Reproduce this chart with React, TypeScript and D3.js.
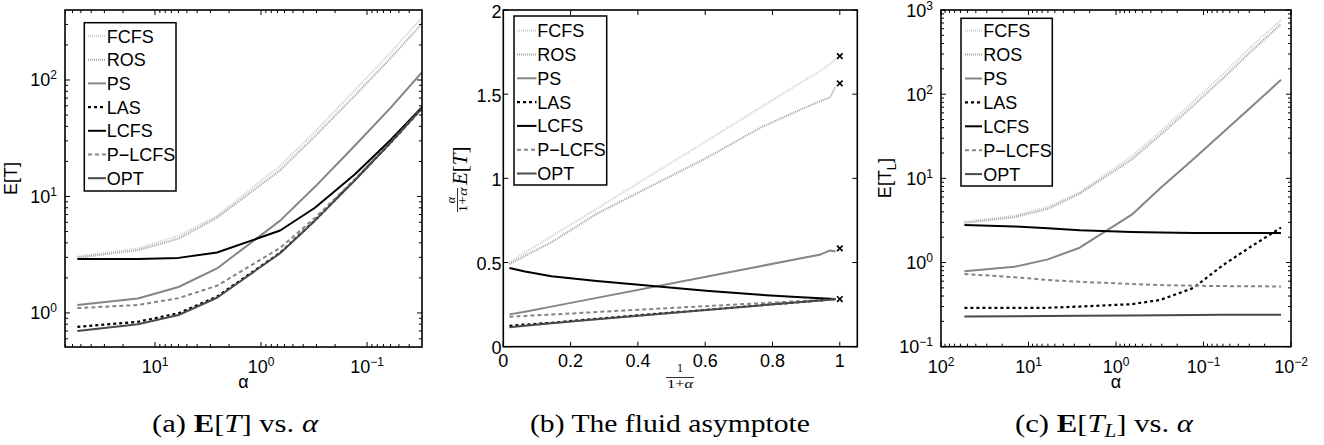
import React from "react";
import * as d3 from "d3";

// ---------- data ----------
const alpha = [54, 14.5, 6, 2.6, 0.66, 0.31, 0.13, 0.06, 0.03, 0.013];
const policyNames = ["FCFS", "ROS", "PS", "LAS", "LCFS", "P\u2212LCFS", "OPT"];

// (a) E[T] vs alpha
const etFCFS = [3.05, 3.59, 4.59, 6.82, 18.3, 36, 82, 172, 348, 785];
const etROS = [2.98, 3.46, 4.34, 6.57, 16.8, 32.9, 73.6, 154, 308, 710];
const etPS = [1.17, 1.33, 1.67, 2.41, 6.2, 12.1, 27.4, 57.7, 118, 261];
const etLAS = [0.758, 0.84, 0.994, 1.38, 3.29, 6.23, 13.9, 28.9, 57.7, 130];
const etLCFS = [2.9, 2.9, 2.97, 3.3, 5.1, 8.0, 15.5, 30.5, 59, 130];
const etPLCFS = [1.1, 1.17, 1.34, 1.71, 3.62, 6.53, 14.1, 29.2, 57.9, 130.6];
const etOPT = [0.7, 0.8, 0.96, 1.35, 3.26, 6.2, 13.8, 28.9, 57.7, 130];

// (b) fluid asymptote: alpha/(1+alpha) E[T] vs 1/(1+alpha)
const fluidFCFS = [0.5, 0.56, 0.655, 0.82, 1.22, 1.42, 1.57, 1.64, 1.68, 1.71];
const fluidROS = [0.49, 0.54, 0.62, 0.79, 1.12, 1.3, 1.41, 1.46, 1.48, 1.545];
const fluidPS = [0.192, 0.208, 0.238, 0.29, 0.415, 0.478, 0.525, 0.548, 0.572, 0.565];
const fluidLAS = [0.124, 0.131, 0.142, 0.166, 0.219, 0.246, 0.266, 0.275, 0.279, 0.283];
const fluidLCFS = [0.468, 0.447, 0.418, 0.39, 0.333, 0.308, 0.294, 0.288, 0.285, 0.283];
const fluidPLCFS = [0.178, 0.183, 0.191, 0.206, 0.241, 0.258, 0.271, 0.277, 0.28, 0.283];
const fluidOPT = [0.115, 0.125, 0.139, 0.163, 0.218, 0.245, 0.265, 0.275, 0.279, 0.283];
const fluidLimitValues = [1.726, 1.564, 0.584, 0.283];

// (c) E[T_L] vs alpha
const etlFCFS = [3.05, 3.59, 4.59, 6.82, 18.3, 36, 82, 172, 348, 760];
const etlROS = [2.95, 3.46, 4.34, 6.57, 16.8, 32.9, 73.6, 154, 308, 680];
const etlPS = [0.79, 0.89, 1.09, 1.5, 3.7, 7.7, 17, 35, 67, 148];
const etlLAS = [0.29, 0.29, 0.29, 0.3, 0.32, 0.36, 0.5, 0.93, 1.5, 2.6];
const etlLCFS = [2.8, 2.68, 2.55, 2.42, 2.3, 2.27, 2.25, 2.25, 2.25, 2.25];
const etlPLCFS = [0.73, 0.67, 0.62, 0.59, 0.556, 0.54, 0.53, 0.525, 0.522, 0.52];
const etlOPT = [0.228, 0.23, 0.232, 0.233, 0.235, 0.237, 0.238, 0.239, 0.239, 0.24];

const linearXTicks = [0, 0.2, 0.4, 0.6, 0.8, 1];
const linearYTicks = [0, 0.5, 1, 1.5, 2];

// ---------- styles ----------
const SANS = "'Liberation Sans', Arial, Helvetica, sans-serif";
const SERIF = "'Liberation Serif', 'Times New Roman', serif";
const lineStyles = [
  { stroke: "#cfcfcf", width: 2, dash: "1,1" },
  { stroke: "#a2a2a2", width: 2, dash: "1,1" },
  { stroke: "#858585", width: 2, dash: "" },
  { stroke: "#000000", width: 2.2, dash: "3,3" },
  { stroke: "#000000", width: 2, dash: "" },
  { stroke: "#858585", width: 2, dash: "4,3" },
  { stroke: "#4a4a4a", width: 2, dash: "" },
];

function logTicks(domain: number[]) {
  const lo = Math.min(domain[0], domain[1]);
  const hi = Math.max(domain[0], domain[1]);
  const majors: number[] = [];
  const minors: number[] = [];
  for (let e = Math.floor(Math.log10(lo)) - 1; e <= Math.ceil(Math.log10(hi)); e++) {
    const p = Math.pow(10, e);
    if (p >= lo * 0.9999 && p <= hi * 1.0001) majors.push(e);
    for (let m = 2; m <= 9; m++) {
      const v = m * p;
      if (v >= lo && v <= hi) minors.push(v);
    }
  }
  return { majors, minors };
}

function expStr(e: number) {
  return e < 0 ? "\u2212" + -e : String(e);
}

type PanelCfg = {
  id: string;
  left: number; right: number; top: number; bottom: number;
  x: any; y: any;
  logX: boolean; logY: boolean;
  xs: number[];
  series: number[][];
  legend: { x0: number; y0: number; x1: number; y1: number; row0: number; step: number; lx0: number; lx1: number; tx: number };
  xLabelBase: number;
  yLabelRight: number;
};

function Panel({ cfg }: { cfg: PanelCfg }) {
  const { x, y, left, right, top, bottom } = cfg;
  const line = d3.line<[number, number]>().x((d) => x(d[0])).y((d) => y(d[1]));
  const ticks: JSX.Element[] = [];
  const labels: JSX.Element[] = [];
  const major = 5, minor = 3;

  if (cfg.logX) {
    const { majors, minors } = logTicks(x.domain());
    minors.forEach((v, i) => {
      const px = x(v);
      ticks.push(<line key={"xm" + i} x1={px} x2={px} y1={bottom} y2={bottom - minor} />);
      ticks.push(<line key={"xmt" + i} x1={px} x2={px} y1={top} y2={top + minor} />);
    });
    majors.forEach((e) => {
      const px = x(Math.pow(10, e));
      ticks.push(<line key={"xM" + e} x1={px} x2={px} y1={bottom} y2={bottom - major} />);
      ticks.push(<line key={"xMt" + e} x1={px} x2={px} y1={top} y2={top + major} />);
      labels.push(
        <text key={"xl" + e} x={px} y={cfg.xLabelBase} textAnchor="middle" fontSize={18}>
          10<tspan dy={-7.5} fontSize={12}>{expStr(e)}</tspan>
        </text>
      );
    });
  } else {
    linearXTicks.forEach((v) => {
      const px = x(v);
      ticks.push(<line key={"xM" + v} x1={px} x2={px} y1={bottom} y2={bottom - major} />);
      ticks.push(<line key={"xMt" + v} x1={px} x2={px} y1={top} y2={top + major} />);
      labels.push(
        <text key={"xl" + v} x={px} y={cfg.xLabelBase} textAnchor="middle" fontSize={18}>
          {String(v)}
        </text>
      );
    });
  }

  if (cfg.logY) {
    const { majors, minors } = logTicks(y.domain());
    minors.forEach((v, i) => {
      const py = y(v);
      ticks.push(<line key={"ym" + i} x1={left} x2={left + minor} y1={py} y2={py} />);
      ticks.push(<line key={"ymr" + i} x1={right} x2={right - minor} y1={py} y2={py} />);
    });
    majors.forEach((e) => {
      const py = y(Math.pow(10, e));
      ticks.push(<line key={"yM" + e} x1={left} x2={left + major} y1={py} y2={py} />);
      ticks.push(<line key={"yMr" + e} x1={right} x2={right - major} y1={py} y2={py} />);
      labels.push(
        <text key={"yl" + e} x={cfg.yLabelRight} y={Math.max(py + 6.5, 17)} textAnchor="end" fontSize={18}>
          10<tspan dy={-7} fontSize={12}>{expStr(e)}</tspan>
        </text>
      );
    });
  } else {
    linearYTicks.forEach((v) => {
      const py = y(v);
      ticks.push(<line key={"yM" + v} x1={left} x2={left + major} y1={py} y2={py} />);
      ticks.push(<line key={"yMr" + v} x1={right} x2={right - major} y1={py} y2={py} />);
      labels.push(
        <text key={"yl" + v} x={cfg.yLabelRight} y={py + 7.5} textAnchor="end" fontSize={18}>
          {String(v)}
        </text>
      );
    });
  }

  const lg = cfg.legend;
  return (
    <g>
      <defs>
        <clipPath id={"clip-" + cfg.id}>
          <rect x={left} y={top} width={right - left} height={bottom - top} />
        </clipPath>
      </defs>
      <g clipPath={`url(#clip-${cfg.id})`}>
        {cfg.series.map((vals, i) => (
          <path
            key={i}
            d={line(cfg.xs.map((xv, j) => [xv, vals[j]] as [number, number])) || ""}
            fill="none"
            stroke={lineStyles[i].stroke}
            strokeWidth={lineStyles[i].width}
            strokeDasharray={lineStyles[i].dash || undefined}
            strokeLinejoin="round"
          />
        ))}
      </g>
      <g stroke="#000" strokeWidth={1}>{ticks}</g>
      <rect x={left} y={top} width={right - left} height={bottom - top} fill="none" stroke="#000" strokeWidth={1.6} />
      <g fill="#000">{labels}</g>
      <g>
        <rect x={lg.x0} y={lg.y0} width={lg.x1 - lg.x0} height={lg.y1 - lg.y0} fill="#fff" stroke="#000" strokeWidth={1.5} />
        {policyNames.map((name, i) => {
          const cy = lg.row0 + i * lg.step;
          return (
            <g key={name}>
              <line x1={lg.lx0} x2={lg.lx1} y1={cy} y2={cy} stroke={lineStyles[i].stroke} strokeWidth={lineStyles[i].width} strokeDasharray={lineStyles[i].dash || undefined} />
              <text x={lg.tx} y={cy + 6.5} fontSize={18} fill="#000">{name}</text>
            </g>
          );
        })}
      </g>
    </g>
  );
}

const rho = alpha.map((a) => 1 / (1 + a));

const panelA: PanelCfg = {
  id: "a", left: 65, right: 422, top: 10, bottom: 347,
  x: d3.scaleLog().domain([70.6, 0.0303]).range([65, 422]),
  y: d3.scaleLog().domain([0.51, 399]).range([347, 10]),
  logX: true, logY: true,
  xs: alpha,
  series: [etFCFS, etROS, etPS, etLAS, etLCFS, etPLCFS, etOPT],
  legend: { x0: 84.3, y0: 22.7, x1: 176, y1: 191, row0: 36, step: 23.7, lx0: 88, lx1: 106, tx: 106.7 },
  xLabelBase: 373,
  yLabelRight: 57,
};

const panelB: PanelCfg = {
  id: "b", left: 503.3, right: 857.3, top: 10, bottom: 346.7,
  x: d3.scaleLinear().domain([0, 1.052]).range([503.3, 857.3]),
  y: d3.scaleLinear().domain([0, 2]).range([346.7, 10]),
  logX: false, logY: false,
  xs: rho,
  series: [fluidFCFS, fluidROS, fluidPS, fluidLAS, fluidLCFS, fluidPLCFS, fluidOPT],
  legend: { x0: 514, y0: 16, x1: 606.7, y1: 185, row0: 30.7, step: 23.8, lx0: 517, lx1: 536.5, tx: 537.3 },
  xLabelBase: 367,
  yLabelRight: 501.5,
};

const panelC: PanelCfg = {
  id: "c", left: 941, right: 1291, top: 10, bottom: 346.7,
  x: d3.scaleLog().domain([100, 0.01]).range([941, 1291]),
  y: d3.scaleLog().domain([0.1, 1000]).range([346.7, 10]),
  logX: true, logY: true,
  xs: alpha,
  series: [etlFCFS, etlROS, etlPS, etlLAS, etlLCFS, etlPLCFS, etlOPT],
  legend: { x0: 961, y0: 18.3, x1: 1052.3, y1: 186, row0: 30.7, step: 23.9, lx0: 965, lx1: 982, tx: 983.3 },
  xLabelBase: 373,
  yLabelRight: 933,
};

export default function App() {
  const xb = panelB.x, yb = panelB.y;
  return (
    <svg width={1324} height={445} style={{ position: "absolute", left: 0, top: 0, background: "#fff" }} fontFamily={SANS}>
      <rect x={0} y={0} width={1324} height={445} fill="#fff" />
      <Panel cfg={panelA} />
      <Panel cfg={panelB} />
      <Panel cfg={panelC} />

      {/* fluid limit markers in (b) */}
      <g stroke="#000" strokeWidth={1.6}>
        {fluidLimitValues.map((v, i) => {
          const cx = xb(1), cy = yb(v), s = 2.8;
          return (
            <g key={i}>
              <line x1={cx - s} x2={cx + s} y1={cy - s} y2={cy + s} />
              <line x1={cx - s} x2={cx + s} y1={cy + s} y2={cy - s} />
            </g>
          );
        })}
      </g>

      {/* axis labels */}
      <text transform="translate(17,178.5) rotate(-90)" textAnchor="middle" fontSize={18}>E[T]</text>
      <text x={243.5} y={388} textAnchor="middle" fontSize={18}>α</text>

      <g transform="translate(459,178) rotate(-90)" fontFamily={SERIF}>
        <text x={-22} y={-4} textAnchor="middle" fontSize={12} fontStyle="italic">α</text>
        <line x1={-34} x2={-10} y1={-1.5} y2={-1.5} stroke="#000" strokeWidth={0.8} />
        <text x={-22} y={8} textAnchor="middle" fontSize={12} textLength={25} lengthAdjust="spacingAndGlyphs">1+<tspan fontStyle="italic">α</tspan></text>
        <text x={-7} y={8} fontSize={21} fontStyle="italic">E<tspan fontStyle="normal">[</tspan>T<tspan fontStyle="normal">]</tspan></text>
      </g>

      <g fontFamily={SERIF}>
        <text x={680} y={372} textAnchor="middle" fontSize={12}>1</text>
        <line x1={666} x2={694} y1={377.5} y2={377.5} stroke="#000" strokeWidth={0.8} />
        <text x={680} y={388} textAnchor="middle" fontSize={12} textLength={26} lengthAdjust="spacingAndGlyphs">1+<tspan fontStyle="italic">α</tspan></text>
      </g>

      <text transform="translate(891,178) rotate(-90)" textAnchor="middle" fontSize={18}>
        E[T<tspan dy={5} fontSize={13}>L</tspan><tspan dy={-5}>]</tspan>
      </text>
      <text x={1116} y={388} textAnchor="middle" fontSize={18}>α</text>

      {/* captions */}
      <g fontFamily={SERIF} fontSize={26} fill="#000">
        <text x={235} y={432} textAnchor="middle" textLength={166} lengthAdjust="spacingAndGlyphs">
          (a) <tspan fontWeight="bold">E</tspan>[<tspan fontStyle="italic">T</tspan>] vs. <tspan fontStyle="italic">α</tspan>
        </text>
        <text x={670} y={432} textAnchor="middle" textLength={280} lengthAdjust="spacingAndGlyphs">
          (b) The fluid asymptote
        </text>
        <text x={1104} y={432} textAnchor="middle" textLength={178} lengthAdjust="spacingAndGlyphs">
          (c) <tspan fontWeight="bold">E</tspan>[<tspan fontStyle="italic">T</tspan><tspan fontStyle="italic" fontSize={18} dy={5}>L</tspan><tspan dy={-5}>] vs. </tspan><tspan fontStyle="italic">α</tspan>
        </text>
      </g>
    </svg>
  );
}
